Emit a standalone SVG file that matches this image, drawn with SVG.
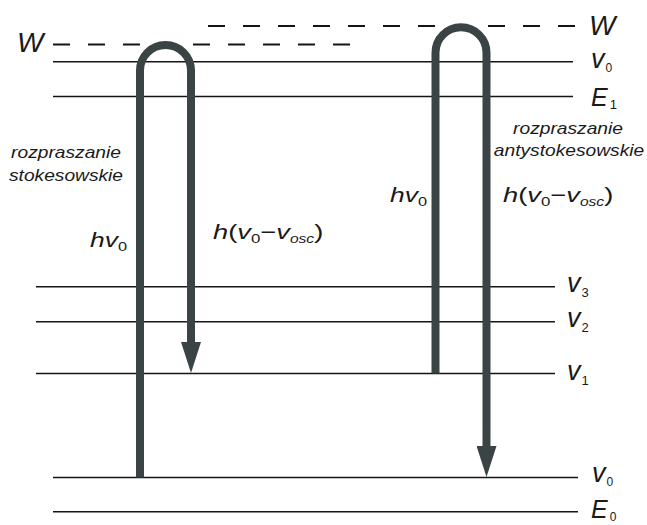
<svg xmlns="http://www.w3.org/2000/svg" width="647" height="525" viewBox="0 0 647 525">
<defs>
<style>
.lvl{stroke:#151515;stroke-width:1.6;fill:none}
.virt{stroke:#151515;stroke-width:1.8;fill:none;stroke-dasharray:17 18}
.arr{stroke:#3a4444;stroke-width:8;fill:none}
.big{font-family:"Liberation Sans",Arial,sans-serif;font-style:italic;fill:#1a1a1a}
.W{font-size:28px}
.v{font-size:27px}
.E{font-size:25px;font-style:italic}
.sub{font-size:12px;font-style:normal}
.sub13{font-size:13px;font-style:normal}
.note{font-family:"Liberation Sans",Arial,sans-serif;font-style:italic;font-size:16px;fill:#1a1a1a;text-anchor:middle}
.f{font-family:"Liberation Sans",Arial,sans-serif;font-size:21px;fill:#1a1a1a}
.it{font-style:italic}
.fs{font-size:13px}
.fsi{font-size:12px;font-style:italic}
</style>
<marker id="head" markerUnits="userSpaceOnUse" viewBox="0 0 31 20" markerWidth="31" markerHeight="20" refX="0" refY="10" orient="auto">
<polygon points="0,0 31,10 0,20" fill="#3a4444"/>
</marker>
</defs>
<rect width="647" height="525" fill="#ffffff"/>

<g id="level-W-upper">
<line class="virt" x1="208" y1="26" x2="575" y2="26"/>
<text class="big W" x="589" y="35">W</text>
</g>
<g id="level-W-lower">
<line class="virt" x1="53" y1="44.5" x2="350" y2="44.5"/>
<text class="big W" x="17" y="52">W</text>
</g>
<g id="level-v0-upper">
<line class="lvl" x1="53" y1="61.7" x2="573" y2="61.7"/>
<text class="big v" x="591" y="68">v<tspan class="sub" dx="1" dy="4">0</tspan></text>
</g>
<g id="level-E1">
<line class="lvl" x1="53" y1="96.5" x2="573" y2="96.5"/>
<text class="big E" x="591" y="106">E<tspan class="sub13" dx="2" dy="3">1</tspan></text>
</g>
<g id="level-v3">
<line class="lvl" x1="36" y1="286.7" x2="555" y2="286.7"/>
<text class="big v" x="567" y="292">v<tspan class="sub13" dx="1" dy="5">3</tspan></text>
</g>
<g id="level-v2">
<line class="lvl" x1="36" y1="321.7" x2="555" y2="321.7" stroke-width="2"/>
<text class="big v" x="567" y="327">v<tspan class="sub13" dx="1" dy="5">2</tspan></text>
</g>
<g id="level-v1">
<line class="lvl" x1="36" y1="373.5" x2="555" y2="373.5"/>
<text class="big v" x="567" y="380">v<tspan class="sub13" dx="1" dy="5">1</tspan></text>
</g>
<g id="level-v0-lower">
<line class="lvl" x1="53" y1="477.5" x2="578" y2="477.5"/>
<text class="big v" x="592" y="482">v<tspan class="sub" dx="1" dy="4">0</tspan></text>
</g>
<g id="level-E0">
<line class="lvl" x1="53" y1="511.7" x2="578" y2="511.7"/>
<text class="big E" x="591" y="518">E<tspan class="sub" dx="2" dy="3">0</tspan></text>
</g>

<g id="connectors">
<path id="stokes" class="arr" d="M140,477.5 V70.5 A25.5,25.5 0 0 1 191,70.5 V342" marker-end="url(#head)"/>
<path id="antistokes" class="arr" d="M435.5,373.5 V52.8 A25.5,25.5 0 0 1 486.5,52.8 V446" marker-end="url(#head)"/>
</g>

<g id="label-stokes">
<text class="note" transform="translate(66,158) scale(1.2,1)">rozpraszanie</text>
<text class="note" transform="translate(66,181) scale(1.2,1)">stokesowskie</text>
</g>
<g id="label-antistokes">
<text class="note" transform="translate(568,134) scale(1.2,1)">rozpraszanie</text>
<text class="note" transform="translate(569,156) scale(1.2,1)">antystokesowskie</text>
</g>
<g id="label-hv0-left">
<text class="f" transform="translate(90,246.5) scale(1.26,1)"><tspan class="it">hv</tspan><tspan class="fs" dy="4">0</tspan></text>
</g>
<g id="label-hvosc-left">
<text class="f" transform="translate(213,238.5) scale(1.3,1)"><tspan class="it">h</tspan>(<tspan class="it">v</tspan><tspan class="fs" dy="4">0</tspan><tspan dy="-4">−</tspan><tspan class="it">v</tspan><tspan class="fsi" dy="4">osc</tspan><tspan dy="-4">)</tspan></text>
</g>
<g id="label-hv0-right">
<text class="f" transform="translate(390,202) scale(1.26,1)"><tspan class="it">hv</tspan><tspan class="fs" dy="4">0</tspan></text>
</g>
<g id="label-hvosc-right">
<text class="f" transform="translate(503,202) scale(1.3,1)"><tspan class="it">h</tspan>(<tspan class="it">v</tspan><tspan class="fs" dy="4">0</tspan><tspan dy="-4">−</tspan><tspan class="it">v</tspan><tspan class="fsi" dy="4">osc</tspan><tspan dy="-4">)</tspan></text>
</g>
</svg>
